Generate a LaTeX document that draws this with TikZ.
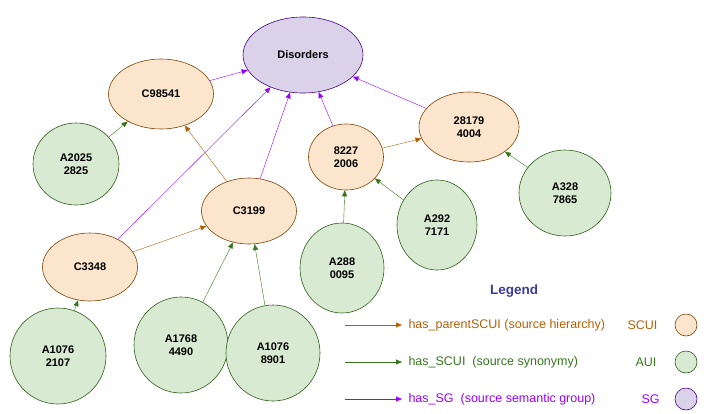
\documentclass[tikz,border=0pt]{standalone}
\usepackage{fontspec}
\setmainfont{Liberation Sans}
\usetikzlibrary{arrows.meta,positioning,shapes.geometric}
\definecolor{scuifill}{HTML}{FCE5CD}
\definecolor{scuiline}{HTML}{B45F06}
\definecolor{auifill}{HTML}{D9EAD3}
\definecolor{auiline}{HTML}{38761D}
\definecolor{sgfill}{HTML}{D9D2E9}
\definecolor{sgline}{HTML}{9900FF}
\definecolor{legblue}{HTML}{3C3CA0}
\begin{document}
\begin{tikzpicture}[x=1pt, y=-1pt,
  font=\fontsize{11}{13}\selectfont\bfseries,
  nd/.style={ellipse, draw, semithick, align=center, inner sep=0pt},
  scui/.style={nd, fill=scuifill, draw=scuiline!70!black},
  aui/.style={nd, fill=auifill, draw=auiline!80!black},
  sg/.style={nd, fill=sgfill, draw=sgline!50!black},
  par/.style={-{Triangle[length=6pt,width=5pt]}, scuiline},
  syn/.style={-{Triangle[length=6pt,width=5pt]}, auiline},
  grp/.style={-{Triangle[length=6pt,width=5pt]}, sgline},
  legtxt/.style={anchor=west, font=\fontsize{12.5}{14}\selectfont}
]
\useasboundingbox (0,0) rectangle (718,413);

% concepts
\node[sg, minimum width=120pt, minimum height=76pt] (dis) at (303,55) {Disorders};
\node[scui, minimum width=105pt, minimum height=70pt] (c98541) at (161,94) {C98541};
\node[scui, minimum width=95pt, minimum height=66pt] (c3199) at (249,211) {C3199};
\node[scui, minimum width=95pt, minimum height=68pt] (c3348) at (90,267) {C3348};
\node[scui, minimum width=75pt, minimum height=66pt] (s8227) at (346,157) {8227\\2006};
\node[scui, minimum width=100pt, minimum height=70pt] (s28179) at (469,127) {28179\\4004};

% atoms
\node[aui, minimum width=86pt, minimum height=82pt] (a2025) at (76,164) {A2025\\2825};
\node[aui, minimum width=92pt, minimum height=86pt] (a328) at (565,193) {A328\\7865};
\node[aui, minimum width=80pt, minimum height=90pt] (a292) at (437,225) {A292\\7171};
\node[aui, minimum width=84pt, minimum height=90pt] (a288) at (342,268) {A288\\0095};
\node[aui, minimum width=96pt, minimum height=96pt] (a10762) at (58,356) {A1076\\2107};
\node[aui, minimum width=94pt, minimum height=96pt] (a1768) at (181,345) {A1768\\4490};
\node[aui, minimum width=94pt, minimum height=96pt] (a10768) at (273,353) {A1076\\8901};

\draw[grp] (c98541) -- (dis);
\draw[grp] (c3348) -- (dis);
\draw[grp] (c3199) -- (dis);
\draw[grp] (s8227) -- (dis);
\draw[grp] (s28179) -- (dis);

\draw[par] (c3199) -- (c98541);
\draw[par] (c3348) -- (c3199);
\draw[par] (s8227) -- (s28179);

\draw[syn] (a2025) -- (c98541);
\draw[syn] (a328) -- (s28179);
\draw[syn] (a292) -- (s8227);
\draw[syn] (a288) -- (s8227);
\draw[syn] (a10762) -- (c3348);
\draw[syn] (a1768) -- (c3199);
\draw[syn] (a10768) -- (c3199);

% legend
\node[font=\fontsize{13.5}{15}\selectfont\bfseries, text=legblue] (leg) at (514,291) {Legend};
\coordinate (l1s) at (345,325); \coordinate (l1e) at (402,325);
\coordinate (l2s) at (345,362); \coordinate (l2e) at (402,362);
\coordinate (l3s) at (345,399); \coordinate (l3e) at (402,399);
\draw[par] (l1s) -- (l1e);
\draw[syn] (l2s) -- (l2e);
\draw[grp] (l3s) -- (l3e);
\node[legtxt, text=scuiline] (t1) at (405,325) {has\_parentSCUI (source hierarchy)};
\node[legtxt, text=auiline] (t2) at (405,362) {has\_SCUI\ \ (source synonymy)};
\node[legtxt, text=sgline] (t3) at (405,399) {has\_SG\ \ (source semantic group)};
\node[legtxt, text=scuiline] (k1) at (624,325) {SCUI};
\node[legtxt, text=auiline] (k2) at (632,362) {AUI};
\node[legtxt, text=sgline] (k3) at (638,399) {SG};
\node[scui, circle, minimum size=22pt] (c1) at (686,325) {};
\node[aui, circle, minimum size=22pt] (c2) at (686,362) {};
\node[sg, circle, minimum size=22pt] (c3) at (686,399) {};
\end{tikzpicture}
\end{document}
